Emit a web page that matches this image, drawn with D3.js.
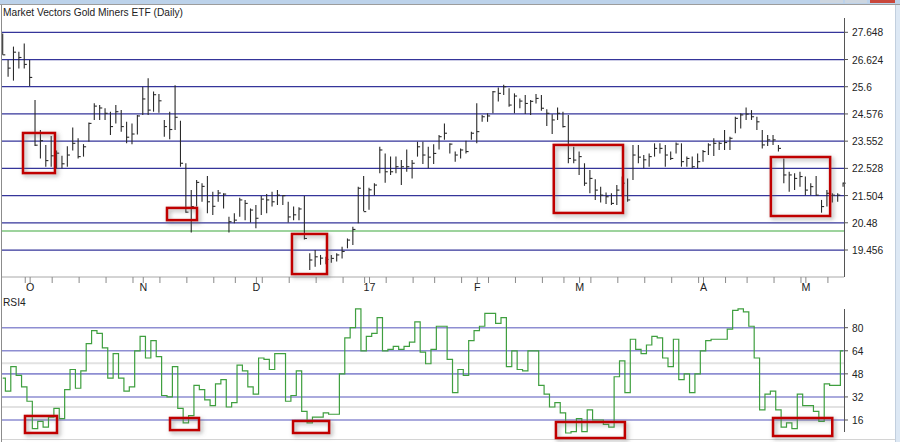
<!DOCTYPE html>
<html><head><meta charset="utf-8">
<script src="https://cdn.jsdelivr.net/npm/d3@7"></script>
<style>html,body{margin:0;padding:0;background:#fff;overflow:hidden}svg{display:block}</style>
</head><body>
<svg id="c" width="900" height="442"></svg>
<script>
// ---------------- data ----------------
const title = "Market Vectors Gold Miners ETF (Daily)";
const rsiTitle = "RSI4";
const startDate = "2016-09-26";
const holidays = ["2016-11-24","2016-12-26","2017-01-02","2017-01-16","2017-02-20","2017-04-14"];
const monthLabels = ["O","N","D","17","F","M","A","M"];
const priceTicks = [19.456, 20.48, 21.504, 22.528, 23.552, 24.576, 25.6, 26.624, 27.648];
const priceTickLabels = ["19.456","20.48","21.504","22.528","23.552","24.576","25.6","26.624","27.648"];
const greenLevel = 20.17;
const rsiTicks = [16, 32, 48, 64, 80];
const rsiTickLabels = ["16","32","48","64","80"];
const rsiLightLevels = [25, 55.4];

const highs = [27.60,26.61,27.11,26.92,27.23,26.61,25.10,23.97,23.41,23.75,23.20,23.00,23.36,24.07,23.66,23.44,24.25,24.98,24.91,24.79,
24.66,24.91,24.72,24.28,24.22,24.54,25.60,25.92,25.42,25.33,24.35,24.66,25.66,24.32,22.72,21.71,22.09,21.97,22.24,21.65,
21.71,21.59,20.71,20.84,21.42,21.34,21.02,21.15,21.49,21.56,21.65,21.71,21.52,21.27,21.09,21.06,21.49,19.33,19.46,19.27,
19.20,19.27,19.33,19.58,19.89,20.33,21.84,22.24,21.80,21.97,23.34,23.09,22.97,22.97,22.84,23.24,22.84,23.53,23.53,23.34,
23.44,23.78,24.22,23.47,23.16,23.28,23.57,23.91,24.98,24.54,24.60,25.44,25.57,25.67,25.54,25.35,25.16,25.29,25.10,25.33,
25.29,24.75,24.56,24.82,24.66,24.54,23.34,23.16,22.72,22.47,22.12,21.84,21.62,21.59,21.90,22.22,22.15,23.41,23.41,23.03,
23.09,23.47,23.47,23.41,23.16,23.50,23.47,22.97,22.97,23.09,23.22,23.47,23.66,23.53,23.97,23.72,24.47,24.60,24.82,24.72,
24.47,23.97,23.78,23.78,23.41,22.90,22.40,22.34,22.40,22.22,21.97,22.24,21.34,21.71,21.59,21.59,22.00];
const lows = [26.80,25.98,25.83,26.29,26.29,25.63,23.37,22.90,22.59,22.59,22.50,22.53,22.59,23.20,22.90,22.97,23.53,24.35,24.35,24.35,
23.78,24.22,23.91,23.47,23.44,23.80,24.54,24.54,24.66,24.62,23.72,23.62,23.97,22.59,20.86,20.11,21.09,21.27,20.84,20.77,
21.27,21.02,20.11,20.46,20.71,20.58,20.49,20.27,20.77,20.84,21.09,21.15,21.15,20.49,20.58,20.58,19.85,18.70,18.83,18.90,
18.92,18.98,19.02,19.14,19.52,19.64,20.46,20.92,20.97,21.52,22.34,21.99,22.28,22.34,21.90,22.40,22.15,22.97,22.69,22.53,
22.69,23.24,23.60,23.09,22.78,22.90,23.09,23.60,23.47,24.28,24.28,24.60,25.04,25.29,24.85,24.60,24.79,24.57,24.54,24.97,
24.70,24.12,23.82,24.35,24.07,22.72,22.72,22.28,21.87,21.59,21.34,21.24,21.19,21.15,21.15,21.46,21.27,22.09,22.72,22.53,
22.59,22.97,23.09,22.59,22.84,23.09,22.59,22.59,22.53,22.53,22.78,23.03,22.99,23.22,23.22,23.22,23.85,24.03,24.35,24.35,
23.97,23.28,23.37,23.41,23.16,21.97,21.65,21.71,21.84,21.52,21.52,21.52,20.86,21.09,21.24,21.27,21.84];
const closes = [26.80,26.30,26.90,26.70,26.44,25.95,23.40,23.57,22.82,23.00,23.10,22.70,23.03,23.47,22.97,23.34,24.22,24.87,24.80,24.60,
24.10,24.66,24.10,23.70,23.82,24.50,25.14,24.72,25.30,25.07,24.10,23.99,24.45,22.72,20.88,21.09,22.00,21.85,21.27,21.10,
21.60,21.56,20.52,20.58,21.34,21.21,20.96,20.65,21.37,21.34,21.27,21.52,21.50,20.70,20.78,21.00,19.89,19.08,19.20,19.15,
19.10,19.14,19.27,19.40,19.83,20.23,21.78,20.90,21.72,21.90,23.22,22.40,22.40,22.59,22.59,22.59,22.72,23.34,23.03,22.95,
23.09,23.72,23.85,23.44,23.03,23.22,23.16,23.85,23.91,24.47,24.50,25.41,25.35,25.60,24.91,25.25,25.06,24.97,25.05,25.16,
24.79,24.60,24.35,24.60,24.10,22.90,22.84,22.97,21.97,22.15,21.71,21.52,21.46,21.21,21.71,21.97,21.34,23.03,22.95,22.85,
22.97,23.28,23.28,23.03,22.90,23.44,22.78,22.90,22.59,22.78,23.16,23.41,23.47,23.47,23.50,23.66,24.41,24.54,24.57,24.47,
24.28,23.41,23.60,23.60,23.28,22.28,22.28,22.15,22.22,21.71,21.84,21.52,21.09,21.59,21.52,21.52,21.97];
const rsi4 = [45,36,53,47,39,29,10,15,11,18,24,17,37,51,38,50,69,78,76,66,
45,62,45,36,39,64,74,59,71,60,33,32,53,24,14,19,40,37,30,26,
41,44,25,28,54,50,39,34,59,58,51,62,62,29,33,50,22,14,18,18,
21,20,20,48,73,80,93,64,74,76,87,64,65,67,65,67,70,84,63,55,
65,81,81,58,35,51,47,71,78,81,90,90,83,87,53,64,51,50,64,64,
40,34,25,28,21,7,8,17,8,23,16,16,13,11,46,57,35,72,65,62,
68,74,73,59,53,72,44,48,35,48,64,71,72,72,72,79,92,93,91,81,
59,23,34,36,23,11,14,10,34,26,26,22,15,41,40,40,64];

// highlight boxes: [first bar, last bar, upper value, lower value]
const priceBoxes = [[3.77,9.7,23.86,22.35],[30.5,36.07,21.04,20.58],[53.7,60.2,20.06,18.55],[102.3,115.15,23.41,20.85],[142.6,153.6,22.955,20.735]];
const rsiBoxes = [[4.14,10.08,18.8,7.0],[31.06,36.44,17.4,9.0],[53.9,60.6,15.3,7.0],[102.7,115.5,14.6,3.5],[143,154,17.4,4.9]];

// ---------------- calendar ----------------
function tradingDays(start, n, hol) {
  const out = []; const d = new Date(start + "T12:00:00");
  const hs = new Set(hol);
  while (out.length < n) {
    const wd = d.getDay();
    const key = d.toISOString().slice(0,10);
    if (wd !== 0 && wd !== 6 && !hs.has(key)) out.push(new Date(d));
    d.setDate(d.getDate() + 1);
  }
  return out;
}
const dates = tradingDays(startDate, closes.length, holidays);

// ---------------- layout ----------------
const svg = d3.select("#c");
const font = "'Liberation Sans', Arial, sans-serif";
const fs = 10.2;
const plotL = 2, axisX = 844;
const x = d3.scaleLinear().domain([0, closes.length - 1]).range([2.7, 2.7 + 5.387 * (closes.length - 1)]);
const yP = d3.scaleLinear().domain([19.456, 27.648]).range([250, 32.3]);
const yR = d3.scaleLinear().domain([16, 80]).range([420, 327.7]);

svg.append("rect").attr("width", 900).attr("height", 442).attr("fill", "#fff");

const defs = svg.append("defs");
const f = defs.append("filter").attr("id", "sh").attr("x", "-20%").attr("y", "-20%").attr("width", "150%").attr("height", "150%");
f.append("feDropShadow").attr("dx", 2).attr("dy", 2).attr("stdDeviation", 2).attr("flood-color", "#666").attr("flood-opacity", 0.55);

// ---------------- window chrome ----------------
svg.append("rect").attr("x", 0).attr("y", 0).attr("width", 900).attr("height", 4).attr("fill", "#bcd2ea");
svg.append("line").attr("x1", 0).attr("x2", 900).attr("y1", 4.5).attr("y2", 4.5).attr("stroke", "#9c9c9c");
svg.append("rect").attr("x", 895).attr("y", 5).attr("width", 5).attr("height", 437).attr("fill", "#dde8f4");
svg.append("line").attr("x1", 895.5).attr("x2", 895.5).attr("y1", 5).attr("y2", 442).attr("stroke", "#c2cfde");
[[820,23,"#cdd6e0"],[845,22,"#cdd6e0"],[870,25,"#c9473c"]].forEach(b =>
  svg.append("rect").attr("x", b[0]).attr("y", 0).attr("width", b[1]).attr("height", 3).attr("fill", b[2]));
svg.append("line").attr("x1", 1.5).attr("x2", 1.5).attr("y1", 5).attr("y2", 442).attr("stroke", "#8c8c8c");

// ---------------- price panel ----------------
svg.append("g").selectAll("line").data(priceTicks).join("line")
  .attr("x1", plotL).attr("x2", axisX).attr("y1", d => yP(d)).attr("y2", d => yP(d))
  .attr("stroke", "#35359a").attr("stroke-width", 1.25);
svg.append("line").attr("x1", plotL).attr("x2", axisX).attr("y1", yP(greenLevel)).attr("y2", yP(greenLevel))
  .attr("stroke", "#7cc47c").attr("stroke-width", 1.5);

const bars = svg.append("g").attr("stroke", "#2a2a2a").attr("stroke-width", 1.1);
closes.forEach((c, i) => {
  bars.append("line").attr("x1", x(i)).attr("x2", x(i)).attr("y1", yP(highs[i])).attr("y2", yP(lows[i]));
  bars.append("line").attr("x1", x(i)).attr("x2", x(i) + 2.6).attr("y1", yP(c)).attr("y2", yP(c));
});

// x axis
const axY = 277;
svg.append("line").attr("x1", plotL).attr("x2", axisX).attr("y1", axY).attr("y2", axY).attr("stroke", "#a8a8a8");
const tickIdx = [], monthIdx = [];
dates.forEach((d, i) => {
  const nx = dates[i + 1];
  if (i > 0 && d.getMonth() !== dates[i - 1].getMonth()) monthIdx.push(i);
  if (nx && (nx.getDay() < d.getDay() || (nx - d) > 4 * 864e5)) tickIdx.push(i);
});
const xt = svg.append("g").attr("stroke", "#8a8a8a");
tickIdx.forEach(i => xt.append("line").attr("x1", x(i) + 1).attr("x2", x(i) + 1).attr("y1", axY).attr("y2", axY + 6));
monthIdx.forEach(i => xt.append("line").attr("x1", x(i) + 0.5).attr("x2", x(i) + 0.5).attr("y1", axY).attr("y2", axY + 6));
svg.append("g").selectAll("text").data(monthIdx).join("text")
  .attr("x", i => x(i) + 0.5).attr("y", 291).attr("text-anchor", "middle")
  .attr("font-family", font).attr("font-size", fs + 0.5).attr("fill", "#222")
  .text((i, k) => monthLabels[k]);

// price axis
svg.append("line").attr("x1", axisX + 0.5).attr("x2", axisX + 0.5).attr("y1", 18).attr("y2", axY).attr("stroke", "#555");
const pa = svg.append("g");
priceTicks.forEach((t, k) => {
  pa.append("line").attr("x1", axisX).attr("x2", axisX + 4).attr("y1", yP(t)).attr("y2", yP(t)).attr("stroke", "#555");
  pa.append("text").attr("x", 852).attr("y", yP(t) + 4).attr("font-family", font).attr("font-size", fs)
    .attr("fill", "#222").text(priceTickLabels[k]);
});

svg.append("text").attr("x", 3).attr("y", 16).attr("font-family", font).attr("font-size", fs)
  .attr("fill", "#222").text(title);

// ---------------- RSI panel ----------------
svg.append("g").selectAll("line").data(rsiLightLevels).join("line")
  .attr("x1", plotL).attr("x2", axisX).attr("y1", d => yR(d)).attr("y2", d => yR(d))
  .attr("stroke", "#e2e2e2").attr("stroke-width", 2);
svg.append("g").selectAll("line").data(rsiTicks).join("line")
  .attr("x1", plotL).attr("x2", axisX).attr("y1", d => yR(d)).attr("y2", d => yR(d))
  .attr("stroke", "#8e8ed2").attr("stroke-width", 1.6);

svg.append("path").datum(rsi4)
  .attr("d", d3.line().x((d, i) => x(i)).y(d => yR(d)).curve(d3.curveStep))
  .attr("fill", "none").attr("stroke", "#3f9f3f").attr("stroke-width", 1.2);

svg.append("line").attr("x1", axisX + 0.5).attr("x2", axisX + 0.5).attr("y1", 309).attr("y2", 432).attr("stroke", "#555");
const ra = svg.append("g");
rsiTicks.forEach((t, k) => {
  ra.append("line").attr("x1", axisX).attr("x2", axisX + 4).attr("y1", yR(t)).attr("y2", yR(t)).attr("stroke", "#555");
  ra.append("text").attr("x", 852).attr("y", yR(t) + 4).attr("font-family", font).attr("font-size", fs)
    .attr("fill", "#222").text(rsiTickLabels[k]);
});
svg.append("text").attr("x", 3).attr("y", 306).attr("font-family", font).attr("font-size", fs)
  .attr("fill", "#222").text(rsiTitle);
svg.append("line").attr("x1", plotL).attr("x2", 895).attr("y1", 439.5).attr("y2", 439.5).attr("stroke", "#d4d4d4");

// ---------------- highlight boxes ----------------
const boxG = svg.append("g").attr("fill", "none").attr("stroke", "#c00000").attr("stroke-width", 2.6).attr("filter", "url(#sh)");
priceBoxes.forEach(b => boxG.append("rect").attr("x", x(b[0])).attr("y", yP(b[2]))
  .attr("width", x(b[1]) - x(b[0])).attr("height", yP(b[3]) - yP(b[2])));
rsiBoxes.forEach(b => boxG.append("rect").attr("x", x(b[0])).attr("y", yR(b[2]))
  .attr("width", x(b[1]) - x(b[0])).attr("height", yR(b[3]) - yR(b[2])));
</script>
</body></html>
